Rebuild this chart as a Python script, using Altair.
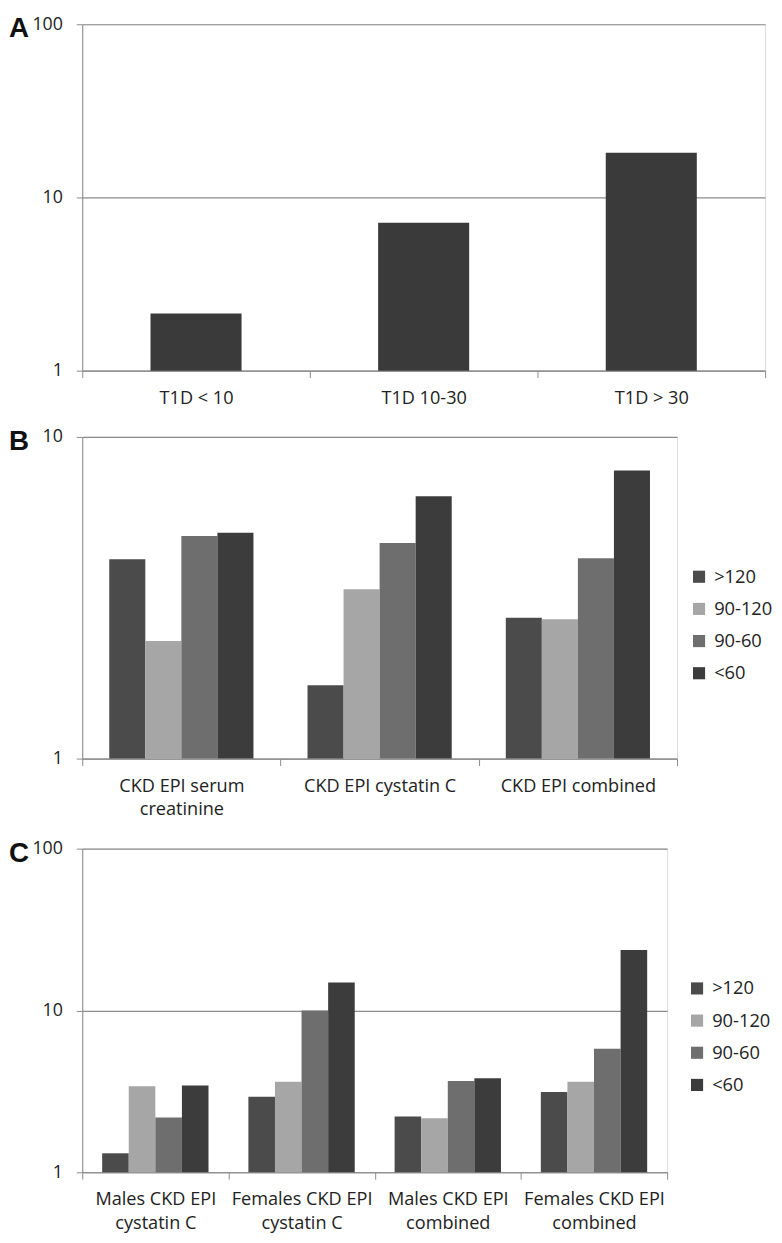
import altair as alt
import pandas as pd

# ---------------- data ----------------
A_CATS = ["T1D < 10", "T1D 10-30", "T1D > 30"]
A_VALUES = [2.14, 7.14, 18.1]

GROUPS = [">120", "90-120", "90-60", "<60"]
GROUP_COLORS = ["#4b4b4b", "#a6a6a6", "#6e6e6e", "#3c3c3c"]

B_CATS = ["CKD EPI serum\ncreatinine", "CKD EPI cystatin C", "CKD EPI combined"]
B_GT120 = [4.17, 1.69, 2.74]
B_90_120 = [2.32, 3.36, 2.71]
B_90_60 = [4.92, 4.68, 4.20]
B_LT60 = [5.04, 6.54, 7.87]

C_CATS = ["Males CKD EPI\ncystatin C", "Females CKD EPI\ncystatin C",
          "Males CKD EPI\ncombined", "Females CKD EPI\ncombined"]
C_GT120 = [1.31, 2.93, 2.21, 3.13]
C_90_120 = [3.40, 3.62, 2.16, 3.62]
C_90_60 = [2.18, 10.0, 3.67, 5.79]
C_LT60 = [3.44, 14.9, 3.81, 23.6]

PANEL_LETTERS = ["A", "B", "C"]
BASE = 1  # bars start at the bottom of the log axis


def long_df(cats, series):
    rows = []
    for g, vals in zip(GROUPS, series):
        for c, v in zip(cats, vals):
            rows.append({"cat": c, "group": g, "value": v, "base": BASE})
    return pd.DataFrame(rows)


df_a = pd.DataFrame({"cat": A_CATS, "value": A_VALUES, "base": [BASE] * len(A_CATS)})
df_b = long_df(B_CATS, [B_GT120, B_90_120, B_90_60, B_LT60])
df_c = long_df(C_CATS, [C_GT120, C_90_120, C_90_60, C_LT60])

FONT = "Open Sans"
AXIS_GRAY = "#8c8c8c"
TEXT = "#222222"


def x_enc(cats):
    return alt.X("cat:N", sort=cats,
                 scale=alt.Scale(paddingInner=0, paddingOuter=0),
                 axis=alt.Axis(title=None, labelAngle=0, tickBand="extent",
                               labelExpr="split(datum.label, '\\n')",
                               labelFontSize=18.3, labelLineHeight=24,
                               labelPadding=12, tickSize=7, labelColor=TEXT,
                               labelFont=FONT, domainColor=AXIS_GRAY, tickColor=AXIS_GRAY,
                               grid=False))


def y_enc(top):
    vals = [1, 10, 100] if top == 100 else [1, 10]
    return alt.Y("value:Q", scale=alt.Scale(type="log", domain=[1, top]),
                 axis=alt.Axis(title=None, values=vals, format="d", grid=True,
                               gridColor=AXIS_GRAY, gridWidth=1.2, domainColor=AXIS_GRAY,
                               tickColor=AXIS_GRAY, tickSize=6, labelPadding=14,
                               labelFontSize=18, labelColor=TEXT, labelFont=FONT))


def color_enc(lx):
    return alt.Color("group:N",
                     scale=alt.Scale(domain=GROUPS, range=GROUP_COLORS),
                     legend=alt.Legend(title=None, orient="none", legendX=lx, legendY=132,
                                       symbolType="square", symbolSize=150,
                                       symbolStrokeWidth=0, symbolOpacity=1,
                                       labelFontSize=18.5, labelFont=FONT, labelColor=TEXT,
                                       labelOffset=6, rowPadding=13.5, padding=0))


def letter_layer(letter):
    return alt.Chart(pd.DataFrame({"letter": [letter]})).mark_text(
        font="Liberation Sans", fontSize=28, fontWeight="bold", color="#111111",
        align="left", baseline="middle",
    ).encode(text="letter:N", x=alt.value(-74), y=alt.value(5))


OFFSET = alt.XOffset("group:N", sort=GROUPS,
                     scale=alt.Scale(paddingInner=0, paddingOuter=0.75))

bars_a = alt.Chart(df_a).mark_bar(color="#3a3a3a", width=alt.RelativeBandSize(0.4)).encode(
    x=x_enc(A_CATS),
    y=y_enc(100),
    y2="base:Q",
)
panel_a = alt.layer(bars_a, letter_layer(PANEL_LETTERS[0])).properties(width=690, height=350)

bars_b = alt.Chart(df_b).mark_bar().encode(
    x=x_enc(B_CATS),
    xOffset=OFFSET,
    y=y_enc(10),
    y2="base:Q",
    color=color_enc(614),
)
panel_b = alt.layer(bars_b, letter_layer(PANEL_LETTERS[1])).properties(width=601, height=325)

bars_c = alt.Chart(df_c).mark_bar().encode(
    x=x_enc(C_CATS),
    xOffset=OFFSET,
    y=y_enc(100),
    y2="base:Q",
    color=color_enc(612),
)
panel_c = alt.layer(bars_c, letter_layer(PANEL_LETTERS[2])).properties(width=591, height=327)

chart = alt.vconcat(panel_a, panel_b, panel_c, spacing=20).resolve_scale(
    color="independent", xOffset="independent", x="independent"
).properties(padding={"left": 0, "top": 0, "right": 0, "bottom": 0}).configure_view(
    stroke=None
).configure(background="white")

chart.save("out.html", embed_options={"renderer": "svg", "actions": False})
